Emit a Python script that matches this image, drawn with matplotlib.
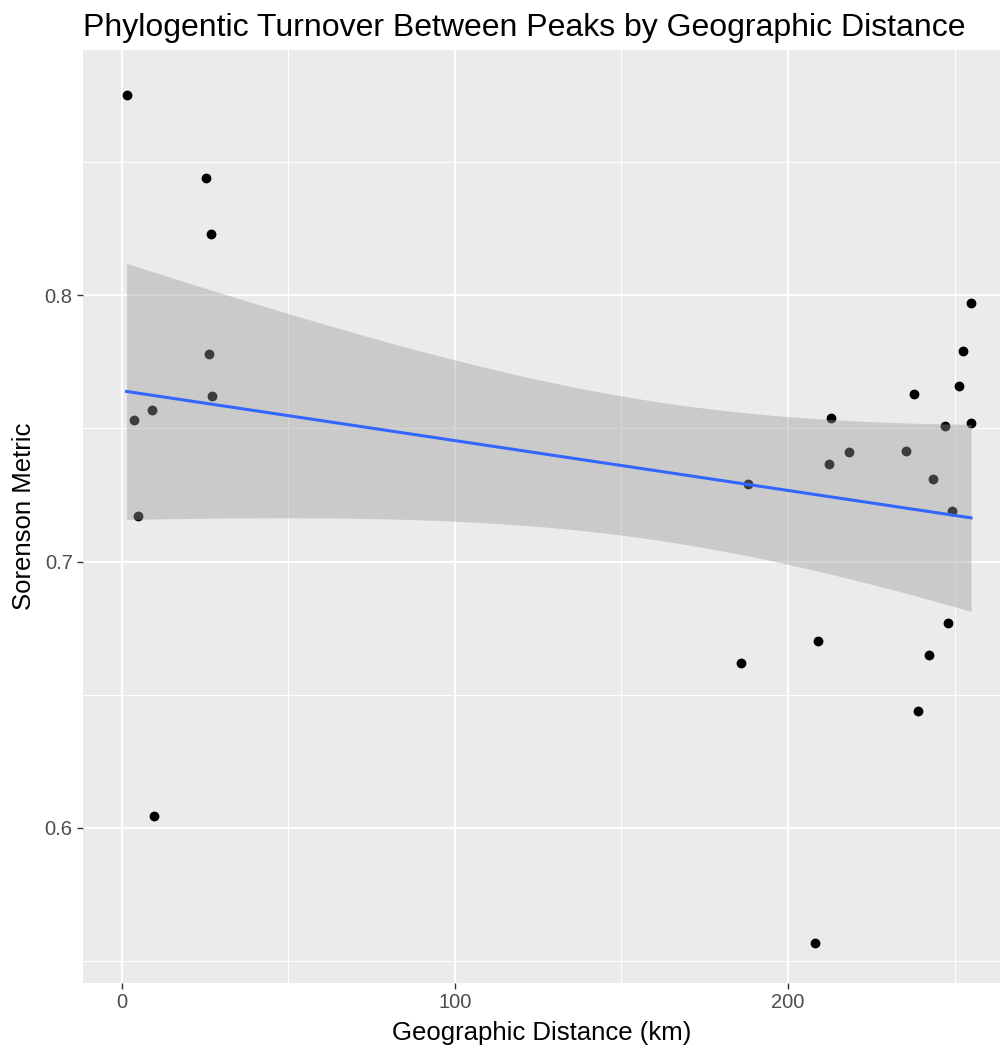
import numpy as np
import matplotlib.pyplot as plt
from matplotlib.ticker import MultipleLocator

# geographic distance (km) and sorenson metric
distance = [1.5, 25.2, 26.7, 26.1, 27.0, 3.6, 9.0, 4.8, 9.6,
            185.9, 188.0, 209.0, 208.1, 212.3, 212.9, 218.3, 235.4, 237.8,
            239.0, 242.3, 243.5, 247.1, 248.0, 249.2, 251.3, 252.5, 254.9, 254.9]
sorenson = [0.875, 0.844, 0.823, 0.778, 0.762, 0.753, 0.757, 0.717, 0.6045,
            0.662, 0.729, 0.670, 0.557, 0.7366, 0.754, 0.741, 0.7415, 0.763,
            0.644, 0.665, 0.731, 0.751, 0.677, 0.719, 0.766, 0.779, 0.797, 0.752]

x = np.array(distance)
y = np.array(sorenson)

# linear fit with 95% confidence band, like geom_smooth(method = "lm")
n = len(x)
slope, intercept = np.polyfit(x, y, 1)
resid = y - (intercept + slope * x)
s = np.sqrt(np.sum(resid ** 2) / (n - 2))
t_crit = 2.0555  # qt(0.975, 26)
xs = np.linspace(x.min(), x.max(), 80)
fit = intercept + slope * xs
se = s * np.sqrt(1 / n + (xs - x.mean()) ** 2 / np.sum((x - x.mean()) ** 2))

plt.rcParams['font.family'] = ['Liberation Sans', 'DejaVu Sans']

fig = plt.figure(figsize=(10.03, 10.55), dpi=100)
ax = fig.add_axes([0.0828, 0.0682, 0.9142, 0.8844])
ax.set_facecolor('#EBEBEB')

ax.scatter(x, y, s=50, color='black', zorder=3, linewidths=0)
ax.fill_between(xs, fit - t_crit * se, fit + t_crit * se, color='#999999',
                alpha=0.4, linewidth=0, zorder=4)
ax.plot(xs, fit, color='#3366FF', linewidth=2.2, zorder=5)

ax.set_xlim(-11.55, 263.6)
ax.set_ylim(0.5418, 0.892)
ax.xaxis.set_major_locator(MultipleLocator(100))
ax.xaxis.set_minor_locator(MultipleLocator(50))
ax.yaxis.set_major_locator(MultipleLocator(0.1))
ax.yaxis.set_minor_locator(MultipleLocator(0.05))
ax.set_yticks([0.6, 0.7, 0.8])
ax.set_yticklabels(['0.6', '0.7', '0.8'])
ax.grid(which='major', color='white', linewidth=1.4, zorder=0)
ax.grid(which='minor', color='white', linewidth=0.7, zorder=0)
ax.set_axisbelow(True)
for sp in ax.spines.values():
    sp.set_visible(False)
ax.tick_params(which='major', length=4, width=1, color='#333333',
               labelcolor='#4D4D4D', labelsize=14.5)
ax.tick_params(which='minor', length=0)

ax.set_xlabel('Geographic Distance (km)', fontsize=18.5, labelpad=6)
ax.set_ylabel('Sorenson Metric', fontsize=18.5, labelpad=6)
ax.set_title('Phylogentic Turnover Between Peaks by Geographic Distance',
             fontsize=23, loc='left', pad=10)

fig.savefig('out.png', dpi=100)
